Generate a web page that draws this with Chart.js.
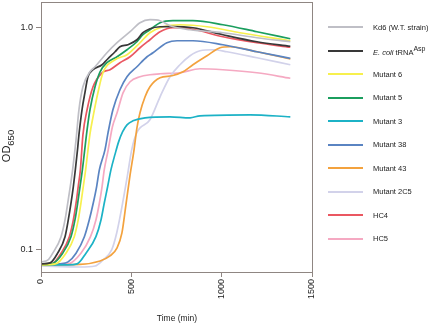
<!DOCTYPE html>
<html>
<head>
<meta charset="utf-8">
<script src="https://cdn.jsdelivr.net/npm/chart.js@4/dist/chart.umd.min.js"></script>
<style>
  html, body { margin: 0; padding: 0; background: #fff; }
  #wrap { position: relative; width: 440px; height: 325px; font-family: "Liberation Sans", Arial, sans-serif; color: #222; }
  #chart { position: absolute; left: 0; top: 0; }
  .xtitle { position: absolute; left: 177px; top: 318px; transform: translate(-50%, -50%); font-size: 8.5px; white-space: nowrap; }
  #legend { position: absolute; left: 328px; top: 15.5px; margin: 0; padding: 0; list-style: none; }
  #legend li { height: 23.5px; display: flex; align-items: center; font-size: 7.5px; white-space: nowrap; }
  #legend .swatch { width: 35px; height: 2px; margin-right: 10px; }
  #legend sup { font-size: 7px; vertical-align: 4px; }
</style>
</head>
<body>
<div id="wrap">
  <canvas id="chart" width="440" height="325"></canvas>
  <div class="xtitle">Time (min)</div>
  <ul id="legend"></ul>
</div>
<script>
// growth curves, time in min, OD650
const labels = ['Kd6 (W.T. strain)', 'E. coli tRNA^Asp', 'Mutant 6', 'Mutant 5', 'Mutant 3',
  'Mutant 38', 'Mutant 43', 'Mutant 2C5', 'HC4', 'HC5'];
const colors = ['#bfbfc6', '#383838', '#f7f04e', '#1b9e5e', '#1cb2c6',
  '#5a84c2', '#f3a23e', '#d2d2ea', '#ea5761', '#f5a9c2'];

const kd6T = [0, 39, 65, 111, 133, 148, 162, 175, 194, 210, 232, 271, 299, 365, 421, 493, 548, 603, 659, 714, 825, 1007, 1195, 1380];
const kd6OD = [0.0877, 0.0895, 0.096, 0.1139, 0.1355, 0.1611, 0.1915, 0.2276, 0.3107, 0.4242, 0.5385, 0.629, 0.6626, 0.7661, 0.8497, 0.9524, 1.0457, 1.0787, 1.0676, 1.0136, 0.9723, 0.9426, 0.8949, 0.8585];

const ecoliT = [0, 50, 92, 133, 151, 166, 179, 190, 202, 210, 227, 243, 260, 288, 338, 365, 410, 437, 481, 531, 564, 603, 659, 730, 841, 1007, 1195, 1380];
const ecoliOD = [0.0859, 0.0868, 0.096, 0.1139, 0.1355, 0.1611, 0.1915, 0.2276, 0.2802, 0.3273, 0.4242, 0.5058, 0.5973, 0.6423, 0.6766, 0.7126, 0.7741, 0.8152, 0.8322, 0.8765, 0.9426, 0.9825, 1.003, 1.005, 0.9926, 0.9233, 0.8585, 0.8195];

const mut6T = [0, 80, 138, 184, 206, 221, 234, 247, 271, 288, 315, 343, 410, 476, 548, 603, 675, 769, 919, 1101, 1380];
const mut6OD = [0.085, 0.0859, 0.096, 0.1139, 0.1355, 0.1611, 0.1915, 0.2276, 0.33, 0.3945, 0.5058, 0.6225, 0.7126, 0.7504, 0.8497, 0.9426, 1.003, 1.024, 1.003, 0.9426, 0.8675];

const mut5T = [0, 60, 120, 166, 188, 203, 216, 229, 255, 271, 299, 327, 365, 421, 476, 531, 564, 603, 659, 730, 841, 1007, 1195, 1380];
const mut5OD = [0.085, 0.0859, 0.096, 0.1139, 0.1355, 0.1611, 0.1915, 0.2276, 0.3447, 0.4242, 0.5385, 0.629, 0.6907, 0.735, 0.7903, 0.8585, 0.9233, 0.9723, 1.0457, 1.0676, 1.0676, 1.024, 0.9524, 0.8857];

const mut3T = [0, 150, 200, 249, 304, 332, 350, 369, 387, 410, 430, 452, 476, 509, 576, 714, 825, 880, 1157, 1380];
const mut3OD = [0.085, 0.085, 0.0859, 0.096, 0.1139, 0.1355, 0.1611, 0.1915, 0.2276, 0.268, 0.305, 0.338, 0.363, 0.3784, 0.3904, 0.3945, 0.3904, 0.3986, 0.4027, 0.3945];

const mut38T = [0, 105, 150, 194, 240, 267, 289, 308, 323, 354, 371, 398, 437, 476, 531, 587, 620, 697, 753, 841, 1007, 1195, 1380];
const mut38OD = [0.085, 0.0859, 0.0877, 0.096, 0.1139, 0.1355, 0.1611, 0.1915, 0.2276, 0.2802, 0.334, 0.4242, 0.522, 0.5973, 0.6626, 0.735, 0.7661, 0.8497, 0.8675, 0.8675, 0.8322, 0.7741, 0.7225];

const mut43T = [0, 216, 327, 382, 421, 448, 470, 493, 515, 531, 548, 576, 603, 659, 725, 786, 841, 919, 991, 1046, 1195, 1380];
const mut43OD = [0.085, 0.0855, 0.0886, 0.0933, 0.1014, 0.1184, 0.1583, 0.2161, 0.2802, 0.3519, 0.4111, 0.4853, 0.5385, 0.5911, 0.6035, 0.629, 0.6766, 0.7427, 0.8067, 0.8152, 0.7741, 0.718];

const mut2c5T = [0, 216, 299, 343, 391, 419, 455, 479, 502, 530, 603, 659, 714, 769, 825, 880, 952, 1029, 1195, 1380];
const mut2c5OD = [0.0841, 0.0832, 0.0841, 0.0895, 0.0993, 0.1184, 0.1667, 0.216, 0.2802, 0.334, 0.3824, 0.4853, 0.5973, 0.6766, 0.7427, 0.7821, 0.7903, 0.7741, 0.7275, 0.6766];

const hc4T = [0, 60, 111, 157, 179, 194, 206, 218, 232, 255, 288, 338, 382, 437, 493, 548, 603, 659, 730, 825, 1007, 1195, 1380];
const hc4OD = [0.085, 0.0859, 0.096, 0.1139, 0.1355, 0.1611, 0.1915, 0.2276, 0.3273, 0.4242, 0.5385, 0.6225, 0.6423, 0.6907, 0.735, 0.8067, 0.8765, 0.9524, 0.9926, 0.9825, 0.9042, 0.8497, 0.811];

const hc5T = [0, 150, 221, 274, 304, 323, 338, 350, 372, 395, 421, 454, 493, 548, 603, 659, 769, 880, 1007, 1195, 1380];
const hc5OD = [0.085, 0.0859, 0.096, 0.1139, 0.1355, 0.1611, 0.1915, 0.2276, 0.2802, 0.355, 0.4111, 0.5058, 0.5671, 0.5973, 0.6098, 0.6161, 0.6225, 0.649, 0.6423, 0.6225, 0.588];

const seriesT = [kd6T, ecoliT, mut6T, mut5T, mut3T, mut38T, mut43T, mut2c5T, hc4T, hc5T];
const seriesOD = [kd6OD, ecoliOD, mut6OD, mut5OD, mut3OD, mut38OD, mut43OD, mut2c5OD, hc4OD, hc5OD];

const xTicks = [0, 500, 1000, 1500];
const yTicks = [0.1, 1.0];
const yTickLabels = ['0.1', '1.0'];

const AXIS = '#8f8682';

const frame = {
  id: 'frame',
  afterDraw(chart) {
    const { ctx, chartArea: a } = chart;
    ctx.save();
    ctx.strokeStyle = AXIS;
    ctx.lineWidth = 1;
    ctx.strokeRect(Math.round(a.left) + 0.5, Math.round(a.top) + 0.5, Math.round(a.right - a.left), Math.round(a.bottom - a.top));
    ctx.restore();
  },
};

// y title with subscript, drawn rotated on the canvas
const yTitle = {
  id: 'yTitle',
  afterDraw(chart) {
    const { ctx, chartArea: a } = chart;
    const main = 'OD';
    const sub = '650';
    ctx.save();
    ctx.fillStyle = '#222';
    ctx.textBaseline = 'middle';
    ctx.font = '11px "Liberation Sans", Arial, sans-serif';
    const wMain = ctx.measureText(main).width;
    ctx.font = '9.5px "Liberation Sans", Arial, sans-serif';
    const wSub = ctx.measureText(sub).width;
    ctx.translate(8, (a.top + a.bottom) / 2 + 9);
    ctx.rotate(-Math.PI / 2);
    const x0 = -(wMain + wSub) / 2;
    ctx.font = '11px "Liberation Sans", Arial, sans-serif';
    ctx.fillText(main, x0, -1);
    ctx.font = '9.5px "Liberation Sans", Arial, sans-serif';
    ctx.fillText(sub, x0 + wMain, 3);
    ctx.restore();
  },
};

function buildLegend() {
  const list = document.getElementById('legend');
  labels.forEach((label, i) => {
    const li = document.createElement('li');
    const text = label
      .replace(/^E\. coli/, '<i>E. coli</i>')
      .replace(/\^(\w+)/, '<sup>$1</sup>');
    li.innerHTML = `<span class="swatch" style="background:${colors[i]}"></span><span>${text}</span>`;
    list.appendChild(li);
  });
}

function initChart() {
  const datasets = labels.map((label, i) => ({
    label,
    data: seriesT[i].map((t, j) => ({ x: t, y: seriesOD[i][j] })),
    borderColor: colors[i],
    backgroundColor: colors[i],
    borderWidth: 1.7,
    pointRadius: 0,
    cubicInterpolationMode: 'monotone',
    fill: false,
  }));

  return new Chart(document.getElementById('chart'), {
    type: 'line',
    data: { datasets },
    options: {
      responsive: false,
      animation: false,
      layout: { padding: { left: 0, right: 128, top: 2, bottom: 0 } },
      plugins: { legend: { display: false }, tooltip: { enabled: false } },
      scales: {
        x: {
          type: 'linear',
          min: 0,
          max: 1500,
          afterBuildTicks: (s) => { s.ticks = xTicks.map((v) => ({ value: v })); },
          afterFit: (s) => { s.height = 53; s.paddingLeft = 0; s.paddingRight = 0; },
          ticks: {
            minRotation: 90,
            maxRotation: 90,
            padding: 2,
            color: '#222',
            font: { family: 'Liberation Sans', size: 9 },
            callback: (v) => String(v),
          },
          grid: { drawOnChartArea: false, drawTicks: true, tickLength: 5, color: AXIS },
          border: { display: true, color: AXIS },
        },
        y: {
          type: 'logarithmic',
          min: 0.079,
          max: 1.296,
          afterBuildTicks: (s) => { s.ticks = yTicks.map((v) => ({ value: v })); },
          afterFit: (s) => { s.width = 41; s.paddingTop = 0; s.paddingBottom = 0; },
          ticks: {
            padding: 3,
            color: '#222',
            font: { family: 'Liberation Sans', size: 9 },
            callback: (v, i) => yTickLabels[i],
          },
          grid: { drawOnChartArea: false, drawTicks: true, tickLength: 5, color: AXIS },
          border: { display: true, color: AXIS },
        },
      },
    },
    plugins: [frame, yTitle],
  });
}

document.addEventListener('DOMContentLoaded', () => {
  buildLegend();
  initChart();
});
</script>
</body>
</html>
